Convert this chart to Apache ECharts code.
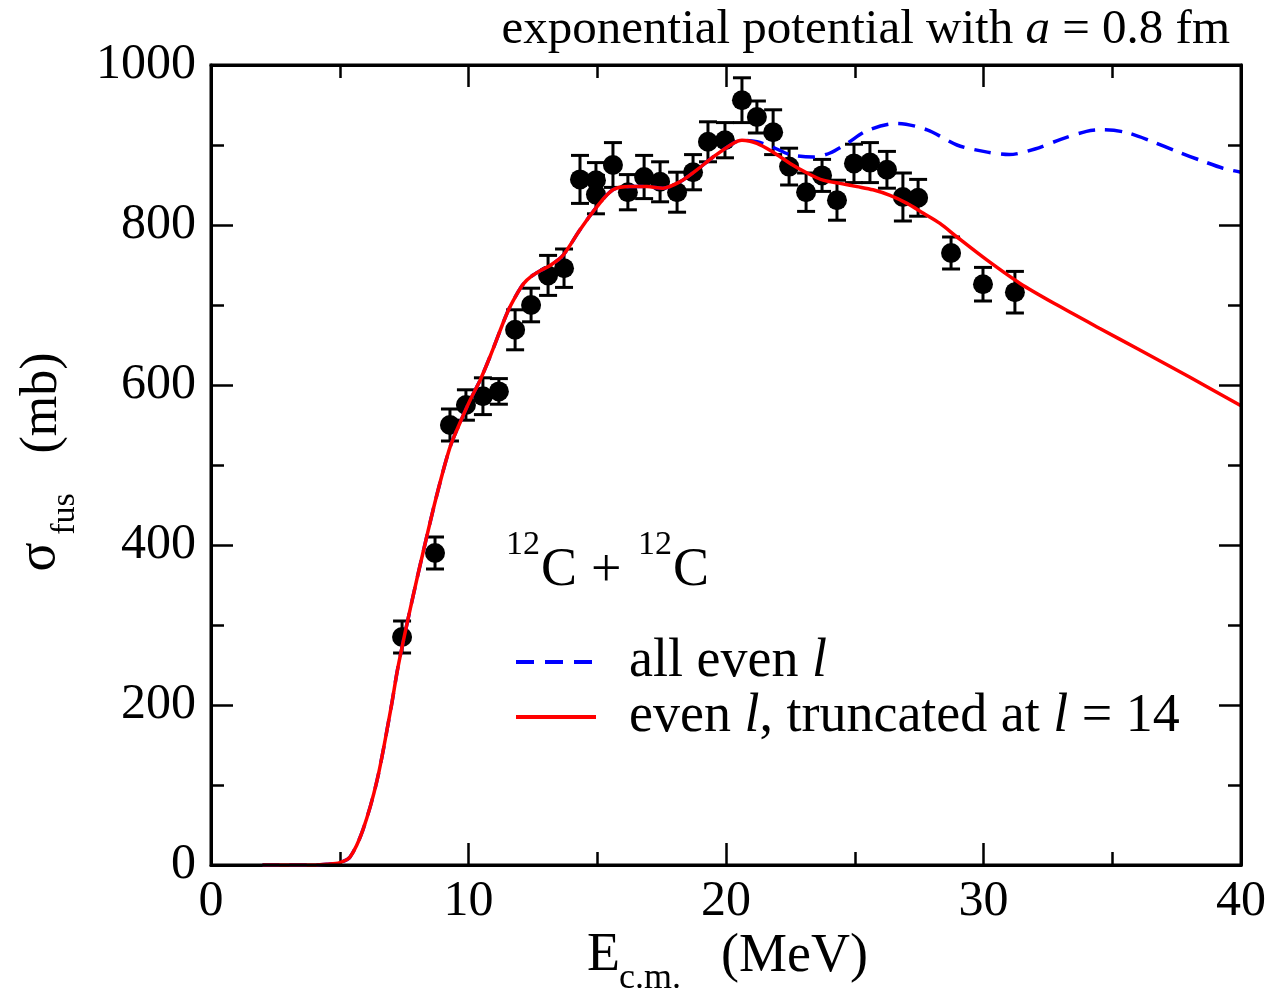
<!DOCTYPE html>
<html>
<head>
<meta charset="utf-8">
<script src="https://cdn.jsdelivr.net/npm/echarts@6/dist/echarts.min.js"></script>
<style>
html,body{margin:0;padding:0;background:#fff;}
#chart{width:1272px;height:996px;}
</style>
</head>
<body>
<div id="chart"></div>
<script>
// ---- data ----
var xTicks = [0, 10, 20, 30, 40];
var yTicks = [0, 200, 400, 600, 800, 1000];

// experimental points: E (MeV), sigma (mb), error (mb)
var expE     = [7.42, 8.70, 9.28, 9.90, 10.56, 11.18, 11.81, 12.43, 13.09, 13.71, 14.33, 14.95, 14.95, 15.61, 16.19, 16.82, 17.44, 18.10, 18.72, 19.30, 19.96, 20.62, 21.20, 21.83, 22.45, 23.11, 23.73, 24.31, 24.97, 25.59, 26.25, 26.87, 27.46, 28.74, 29.98, 31.22];
var expSigma = [285, 390, 550, 575, 586, 592, 669, 700, 737, 746, 857, 856, 838, 875, 841, 860, 854, 841, 866, 904, 906, 956, 935, 916, 873, 841, 862, 831, 877, 878, 869, 835, 834, 765, 726, 716];
var expErr   = [20, 20, 20, 19, 23, 16, 25, 21, 25, 24, 30, 22, 24, 28, 22, 27, 25, 25, 22, 25, 22, 28, 20, 28, 23, 24, 20, 25, 24, 25, 23, 30, 23, 20, 21, 26];

// "even l, truncated at l = 14" (red solid)
var redE     = [2, 3, 4, 4.5, 5, 5.4, 5.9, 6.45, 7.0, 7.26, 7.75, 8.23, 8.75, 9.28, 9.7, 10.06, 10.45, 10.83, 11.5, 11.85, 12.15, 12.45, 12.8, 13.2, 13.67, 14.33, 14.99, 15.61, 16.27, 16.93, 17.55, 18.21, 18.87, 19.5, 20.27, 20.62, 21.2, 21.83, 22.49, 23.15, 23.77, 24.43, 25.09, 25.71, 26.37, 27.03, 27.65, 28.31, 28.97, 30.14, 31.42, 32.97, 34.5, 36, 38, 40];
var redSigma = [0, 0, 0, 1, 3, 10, 44, 106, 198, 247, 322, 390, 460, 522, 555, 581, 606, 635, 690, 712, 727, 736, 743, 750, 762, 794, 823, 844, 848, 848, 846, 854, 869, 885, 902, 906, 902, 891, 877, 865, 856, 852, 848, 844, 837, 827, 815, 802, 785, 756, 727, 698, 671, 645, 610, 574];

// "all even l" (blue dashed)
var blueE     = [2, 3, 4, 4.5, 5, 5.4, 5.9, 6.45, 7.0, 7.26, 7.75, 8.23, 8.75, 9.28, 9.7, 10.06, 10.45, 10.83, 11.5, 11.85, 12.15, 12.45, 12.8, 13.2, 13.67, 14.33, 14.99, 15.61, 16.27, 16.93, 17.55, 18.21, 18.87, 19.5, 20.27, 20.62, 21.2, 21.83, 22.49, 23.38, 24.04, 24.7, 25.48, 26.64, 27.81, 28.97, 30.0, 31.0, 32.0, 33.0, 34.0, 34.6, 35.5, 36.5, 37.5, 38.5, 39.3, 40];
var blueSigma = [0, 0, 0, 1, 3, 10, 44, 106, 198, 247, 322, 390, 460, 522, 555, 581, 606, 635, 690, 712, 727, 736, 743, 750, 762, 794, 823, 844, 848, 848, 846, 854, 869, 885, 902, 906, 904, 897, 888, 885, 890, 902, 918, 927, 919, 900, 892, 888, 895, 907, 917, 919, 916, 905, 892, 880, 871, 866];

var seriesNames = ['all even l', 'even l, truncated at l = 14'];

// ---- build ----
function pairs(a, b) { var o = []; for (var i = 0; i < a.length; i++) o.push([a[i], b[i]]); return o; }
function triples(a, b, c) { var o = []; for (var i = 0; i < a.length; i++) o.push([a[i], b[i], c[i]]); return o; }

var FONT = 'Liberation Serif';
var BLUE = '#0000ff', RED = '#ff0000';
var DASH = [17, 10];
var chart = echarts.init(document.getElementById('chart'), null, {renderer: 'canvas'});

function axisBase() {
  return {
    axisLine: {show: true, onZero: false, lineStyle: {color: '#000', width: 3}},
    axisTick: {show: true, inside: true, length: 22, lineStyle: {color: '#000', width: 2.5}},
    minorTick: {show: true, splitNumber: 2, length: 13, lineStyle: {color: '#000', width: 2.5}},
    splitLine: {show: false},
    minorSplitLine: {show: false}
  };
}

var richText = {
  n: {fontFamily: FONT, fontSize: 54, color: '#000'},
  i: {fontFamily: FONT, fontSize: 54, color: '#000', fontStyle: 'italic'}
};

var option = {
  backgroundColor: '#fff',
  animation: false,
  title: {
    text: '{n|exponential potential with }{i|a}{n| = 0.8 fm}',
    right: 37, top: 1,
    textStyle: {
      fontWeight: 'normal',
      rich: {
        n: {fontFamily: FONT, fontSize: 49, color: '#000', fontWeight: 'normal'},
        i: {fontFamily: FONT, fontSize: 49, fontStyle: 'italic', color: '#000', fontWeight: 'normal'}
      }
    }
  },
  grid: {left: 211, top: 65, width: 1030, height: 800, show: false},
  xAxis: [
    Object.assign(axisBase(), {
      type: 'value', min: 0, max: 40, interval: 10, position: 'bottom',
      axisLabel: {show: true, fontFamily: FONT, fontSize: 50, color: '#000', margin: 12,
        formatter: function (v) { return xTicks.indexOf(v) >= 0 ? String(v) : ''; }}
    }),
    Object.assign(axisBase(), {
      type: 'value', min: 0, max: 40, interval: 10, position: 'top',
      axisLabel: {show: false}
    })
  ],
  yAxis: [
    Object.assign(axisBase(), {
      type: 'value', min: 0, max: 1000, interval: 200, position: 'left',
      axisLabel: {show: true, fontFamily: FONT, fontSize: 50, color: '#000', margin: 15,
        formatter: function (v) { return yTicks.indexOf(v) >= 0 ? String(v) : ''; }}
    }),
    Object.assign(axisBase(), {
      type: 'value', min: 0, max: 1000, interval: 200, position: 'right',
      axisLabel: {show: false}
    })
  ],
  series: [
    {
      name: 'errors',
      type: 'custom',
      z: 3,
      xAxisIndex: 0, yAxisIndex: 0,
      data: triples(expE, expSigma, expErr),
      renderItem: function (params, api) {
        var x = api.value(0), y = api.value(1), e = api.value(2);
        var p1 = api.coord([x, y + e]);
        var p2 = api.coord([x, y - e]);
        var w = 9;
        var st = {stroke: '#000', lineWidth: 3};
        return {
          type: 'group',
          children: [
            {type: 'line', shape: {x1: p1[0], y1: p1[1], x2: p2[0], y2: p2[1]}, style: st},
            {type: 'line', shape: {x1: p1[0] - w, y1: p1[1], x2: p1[0] + w, y2: p1[1]}, style: st},
            {type: 'line', shape: {x1: p2[0] - w, y1: p2[1], x2: p2[0] + w, y2: p2[1]}, style: st}
          ]
        };
      }
    },
    {
      name: 'data',
      type: 'scatter',
      z: 4,
      symbol: 'circle',
      symbolSize: 20,
      itemStyle: {color: '#000', opacity: 1},
      data: pairs(expE, expSigma)
    },
    {
      name: seriesNames[0],
      type: 'line',
      z: 5,
      smooth: 0.3,
      showSymbol: false,
      symbol: 'none',
      color: BLUE,
      lineStyle: {color: BLUE, width: 3.5, type: DASH},
      data: pairs(blueE, blueSigma)
    },
    {
      name: seriesNames[1],
      type: 'line',
      z: 6,
      smooth: 0.3,
      showSymbol: false,
      symbol: 'none',
      color: RED,
      lineStyle: {color: RED, width: 3.5},
      data: pairs(redE, redSigma)
    }
  ],
  graphic: [
    // plot frame
    {type: 'rect', z: 10, silent: true, shape: {x: 211, y: 65, width: 1030, height: 800},
      style: {fill: null, stroke: '#000', lineWidth: 3}},
    // y axis title (rotated)
    {type: 'text', rotation: Math.PI / 2, x: 40, y: 557, z: 10,
      style: {text: 'σ', font: '54px "Liberation Serif"', fill: '#000', textAlign: 'center', textVerticalAlign: 'middle'}},
    {type: 'text', rotation: Math.PI / 2, x: 65, y: 514, z: 10,
      style: {text: 'fus', font: '34px "Liberation Serif"', fill: '#000', textAlign: 'center', textVerticalAlign: 'middle'}},
    {type: 'text', rotation: Math.PI / 2, x: 42, y: 403, z: 10,
      style: {text: '(mb)', font: '52px "Liberation Serif"', fill: '#000', textAlign: 'center', textVerticalAlign: 'middle'}},
    // x axis title
    {type: 'text', x: 587, y: 956, z: 10,
      style: {text: 'E', font: '54px "Liberation Serif"', fill: '#000', textAlign: 'left', textVerticalAlign: 'middle'}},
    {type: 'text', x: 619, y: 979, z: 10,
      style: {text: 'c.m.', font: '36px "Liberation Serif"', fill: '#000', textAlign: 'left', textVerticalAlign: 'middle'}},
    {type: 'text', x: 721, y: 957, z: 10,
      style: {text: '(MeV)', font: '54px "Liberation Serif"', fill: '#000', textAlign: 'left', textVerticalAlign: 'middle'}},
    // reaction label
    {type: 'text', x: 506, y: 545, z: 10,
      style: {text: '12', font: '34px "Liberation Serif"', fill: '#000', textAlign: 'left', textVerticalAlign: 'middle'}},
    {type: 'text', x: 541, y: 571, z: 10,
      style: {text: 'C', font: '54px "Liberation Serif"', fill: '#000', textAlign: 'left', textVerticalAlign: 'middle'}},
    {type: 'text', x: 591, y: 572, z: 10,
      style: {text: '+', font: '54px "Liberation Serif"', fill: '#000', textAlign: 'left', textVerticalAlign: 'middle'}},
    {type: 'text', x: 638, y: 545, z: 10,
      style: {text: '12', font: '34px "Liberation Serif"', fill: '#000', textAlign: 'left', textVerticalAlign: 'middle'}},
    {type: 'text', x: 673, y: 571, z: 10,
      style: {text: 'C', font: '54px "Liberation Serif"', fill: '#000', textAlign: 'left', textVerticalAlign: 'middle'}},
    // legend
    {type: 'line', z: 10, shape: {x1: 516, y1: 662, x2: 596, y2: 662},
      style: {stroke: BLUE, lineWidth: 4, lineDash: [18, 11]}},
    {type: 'text', x: 629, y: 662, z: 10,
      style: {text: '{n|all even }{i|l}', rich: richText, textAlign: 'left', textVerticalAlign: 'middle'}},
    {type: 'line', z: 10, shape: {x1: 516, y1: 717, x2: 596, y2: 717},
      style: {stroke: RED, lineWidth: 4}},
    {type: 'text', x: 629, y: 717, z: 10,
      style: {text: '{n|even }{i|l}{n|, truncated at }{i|l}{n| = 14}', rich: richText, textAlign: 'left', textVerticalAlign: 'middle'}}
  ]
};
chart.setOption(option);
</script>
</body>
</html>
